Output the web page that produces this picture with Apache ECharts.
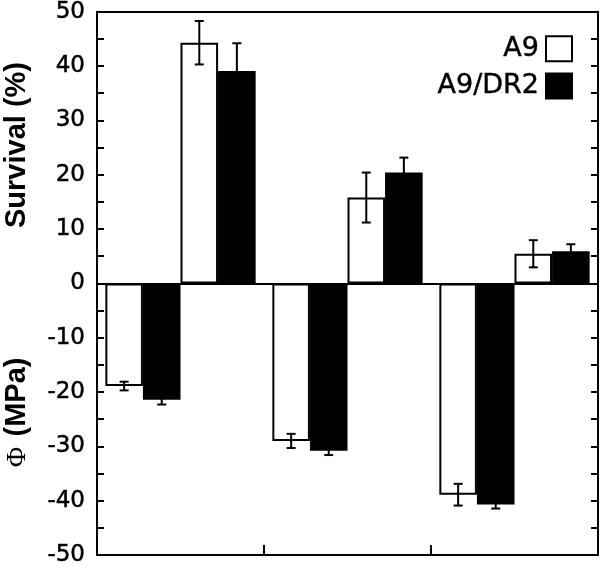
<!DOCTYPE html>
<html>
<head>
<meta charset="utf-8">
<script src="https://cdn.jsdelivr.net/npm/echarts@6/dist/echarts.min.js"></script>
<style>html,body{margin:0;padding:0;background:#fff;}#chart{width:600px;height:575px;}</style>
</head>
<body>
<div id="chart"></div>
<script>
// ---- data ----
var categories = ['1', '2', '3'];
var phiA9 = [-18.9, -29.0, -38.9];
var phiA9Err = [0.8, 1.3, 2.0];
var phiDR2 = [-21.4, -30.8, -40.7];
var phiDR2Err = [0.9, 0.8, 0.75];
var survA9 = [44.3, 15.8, 5.45];
var survA9Err = [4.0, 4.6, 2.5];
var survDR2 = [39.1, 20.4, 5.9];
var survDR2Err = [5.1, 2.75, 1.3];
var yTicks = [-50, -40, -30, -20, -10, 0, 10, 20, 30, 40, 50];

var chart = echarts.init(document.getElementById('chart'), null, {renderer: 'canvas'});

var GAP = 0.10; // barCategoryGap
var slots = [
  {vals: phiA9, errs: phiA9Err, name: 'A9', color: '#fff'},
  {vals: phiDR2, errs: phiDR2Err, name: 'A9/DR2', color: '#000'},
  {vals: survA9, errs: survA9Err, name: 'A9', color: '#fff'},
  {vals: survDR2, errs: survDR2Err, name: 'A9/DR2', color: '#000'}
];

var errData = [];
slots.forEach(function (s, si) {
  s.vals.forEach(function (v, ci) { errData.push([ci, v, s.errs[ci], si]); });
});

var barSeries = slots.map(function (s, si) {
  var o = {
    type: 'bar',
    name: s.name,
    data: s.vals,
    barGap: '0%',
    barCategoryGap: (GAP * 100) + '%',
    itemStyle: {color: s.color, borderColor: '#000', borderWidth: 2},
    emphasis: {disabled: true},
    silent: true,
    z: 2
  };
  if (si === 0) {
    o.markLine = {
      silent: true, symbol: 'none', label: {show: false},
      lineStyle: {color: '#000', width: 2, type: 'solid'},
      data: [{yAxis: 0}], z: 5
    };
  }
  return o;
});

var errSeries = {
  type: 'custom',
  name: 'err',
  silent: true,
  z: 10,
  encode: {x: 0, y: 1},
  data: errData,
  renderItem: function (params, api) {
    var cat = api.value(0), val = api.value(1), err = api.value(2), slot = api.value(3);
    var c = api.coord([cat, val]);
    var band = api.size([1, 0])[0];
    var bw = band * (1 - GAP) / 4;
    var x = c[0] + (slot - 1.5) * bw;
    var yt = api.coord([cat, val + err])[1];
    var yb = api.coord([cat, val - err])[1];
    var hw = 4.5;
    var st = {stroke: '#000', lineWidth: 2};
    return {
      type: 'group',
      children: [
        {type: 'line', shape: {x1: x, y1: yt, x2: x, y2: yb}, style: st},
        {type: 'line', shape: {x1: x - hw, y1: yt, x2: x + hw, y2: yt}, style: st},
        {type: 'line', shape: {x1: x - hw, y1: yb, x2: x + hw, y2: yb}, style: st}
      ]
    };
  }
};

var yAxisBase = function (pos, showLabels) {
  return {
    type: 'value', position: pos, min: yTicks[0], max: yTicks[yTicks.length - 1], interval: 10,
    axisLine: {show: true, onZero: false, lineStyle: {color: '#000', width: 2}},
    axisTick: {show: true, inside: true, length: 7, lineStyle: {color: '#000', width: 2}},
    minorTick: {show: true, splitNumber: 2, length: 7, lineStyle: {color: '#000', width: 2}},
    splitLine: {show: false},
    axisLabel: {show: showLabels, color: '#000', fontSize: 23, fontFamily: 'DejaVu Sans', margin: 12,
                textBorderColor: '#000', textBorderWidth: 0.5}
  };
};

var option = {
  animation: false,
  backgroundColor: '#fff',
  grid: {left: 97, right: 2, top: 11, bottom: 20},
  legend: {
    data: ['A9', 'A9/DR2'],
    orient: 'vertical',
    right: 27, top: 35,
    padding: 0,
    align: 'right',
    icon: 'rect',
    itemWidth: 26, itemHeight: 25, itemGap: 10,
    selectedMode: false,
    textStyle: {color: '#000', fontSize: 27, fontFamily: 'DejaVu Sans', padding: [0, 2, 0, 0],
                textBorderColor: '#000', textBorderWidth: 0.4}
  },
  xAxis: [
    {
      type: 'category', data: categories, position: 'bottom',
      axisLine: {show: true, onZero: false, lineStyle: {color: '#000', width: 2}},
      axisTick: {show: true, inside: true, length: 10, alignWithLabel: false, lineStyle: {color: '#000', width: 2}},
      axisLabel: {show: false},
      splitLine: {show: false}
    },
    {
      type: 'category', data: categories, position: 'top',
      axisLine: {show: true, onZero: false, lineStyle: {color: '#000', width: 2}},
      axisTick: {show: false}, axisLabel: {show: false}, splitLine: {show: false}
    }
  ],
  yAxis: [yAxisBase('left', true), yAxisBase('right', false)],
  graphic: [
    {type: 'text', x: 17, y: 145, rotation: Math.PI / 2,
     style: {text: 'Survival (%)', font: 'bold 29px "Liberation Sans"', align: 'center', verticalAlign: 'middle', fill: '#000'}},
    {type: 'text', x: 17, y: 397, rotation: Math.PI / 2,
     style: {text: '(MPa)', font: 'bold 29px "Liberation Sans"', align: 'center', verticalAlign: 'middle', fill: '#000'}},
    {type: 'text', x: 18, y: 457, rotation: Math.PI / 2,
     style: {text: 'Φ', font: '28px "Liberation Serif"', align: 'center', verticalAlign: 'middle', fill: '#000'}}
  ],
  series: barSeries.concat([errSeries])
};
chart.setOption(option);
</script>
</body>
</html>
